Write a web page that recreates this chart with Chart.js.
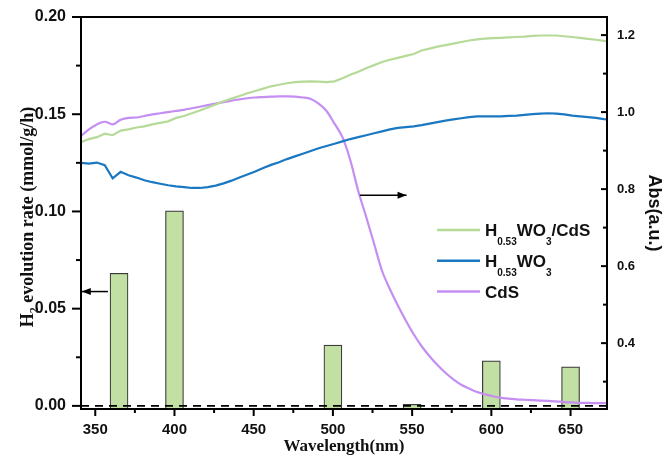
<!DOCTYPE html>
<html>
<head>
<meta charset="utf-8">
<script src="https://cdn.jsdelivr.net/npm/chart.js@4.4.1/dist/chart.umd.min.js"></script>
<style>
  body { margin: 0; background: #fff; }
  canvas { display: block; }
</style>
</head>
<body>
<canvas id="chart" width="665" height="464"></canvas>
<script>
// H2 evolution rate per wavelength (bars, left axis)
const barWl = [365, 400, 500, 550, 600, 650];
const barRate = [0.0682, 0.1003, 0.0313, 0.0008, 0.0232, 0.0201];

// absorbance spectra (lines, right axis)
const wl = [341, 346, 351, 356, 361, 366, 371, 376, 381, 386, 391, 396, 401, 406, 411, 416, 421, 426, 431, 436,
	441, 446, 451, 456, 461, 466, 471, 476, 481, 486, 491, 496, 501, 506, 511, 516, 521, 526, 531, 536,
	541, 546, 551, 556, 561, 566, 571, 576, 581, 586, 591, 596, 601, 606, 611, 616, 621, 626, 631, 636,
	641, 646, 651, 656, 661, 666, 671, 673];
const absComposite = [0.922, 0.930, 0.935, 0.944, 0.940, 0.952, 0.955, 0.960, 0.963, 0.968, 0.972, 0.976, 0.985, 0.990, 0.997, 1.004, 1.012, 1.020, 1.028, 1.035,
	1.042, 1.049, 1.055, 1.061, 1.067, 1.071, 1.075, 1.078, 1.079, 1.080, 1.079, 1.078, 1.080, 1.088, 1.097, 1.105, 1.114, 1.122, 1.130, 1.136,
	1.141, 1.146, 1.151, 1.160, 1.165, 1.170, 1.174, 1.178, 1.182, 1.186, 1.189, 1.191, 1.192, 1.193, 1.194, 1.195, 1.196, 1.198, 1.199, 1.199,
	1.199, 1.197, 1.195, 1.193, 1.190, 1.188, 1.185, 1.184];
const absHWO = [0.868, 0.866, 0.869, 0.862, 0.828, 0.845, 0.836, 0.830, 0.823, 0.818, 0.814, 0.810, 0.807, 0.805, 0.803, 0.803, 0.805, 0.809, 0.815, 0.822,
	0.830, 0.838, 0.846, 0.855, 0.863, 0.870, 0.878, 0.885, 0.892, 0.899, 0.906, 0.912, 0.918, 0.924, 0.930, 0.935, 0.940, 0.945, 0.950, 0.955,
	0.959, 0.961, 0.963, 0.966, 0.970, 0.974, 0.978, 0.981, 0.984, 0.987, 0.989, 0.989, 0.989, 0.989, 0.990, 0.991, 0.993, 0.995, 0.996, 0.997,
	0.996, 0.994, 0.991, 0.989, 0.987, 0.985, 0.982, 0.981];
const absCdS = [0.938, 0.955, 0.968, 0.975, 0.968, 0.980, 0.985, 0.986, 0.990, 0.994, 0.997, 1.000, 1.003, 1.006, 1.010, 1.014, 1.018, 1.022, 1.026, 1.030,
	1.033, 1.036, 1.038, 1.039, 1.040, 1.041, 1.041, 1.040, 1.038, 1.034, 1.022, 1.003, 0.970, 0.935, 0.875, 0.795, 0.728, 0.658, 0.588, 0.540,
	0.498, 0.459, 0.423, 0.392, 0.366, 0.343, 0.323, 0.306, 0.292, 0.282, 0.273, 0.267, 0.262, 0.258, 0.256, 0.254, 0.253, 0.252, 0.251, 0.250,
	0.249, 0.247, 0.246, 0.245, 0.245, 0.244, 0.244, 0.244];

// tick values
const xMajor = [350, 400, 450, 500, 550, 600, 650];
const xMinor = [375, 425, 475, 525, 575, 625];
const rateMajor = [0, 0.05, 0.10, 0.15, 0.20];
const rateMinor = [0.025, 0.075, 0.125, 0.175];
const absMajor = [0.4, 0.6, 0.8, 1.0, 1.2];
const absMinor = [0.3, 0.5, 0.7, 0.9, 1.1];

// zero reference line and the two axis arrows (data units)
const zeroLineX = [341, 673];
const leftArrowX = [358, 341.5], leftArrowY = 0.0588;
const rightArrowX = [517, 546.5], rightArrowY = 0.784;

const colGreen = '#b6da98', colBlue = '#1a78c2', colPurple = '#c48ef2';
const legendItems = [
	{ color: colGreen, parts: [['H', 0], ['0.53', 1], ['WO', 0], ['3', 1], ['/CdS', 0]] },
	{ color: colBlue, parts: [['H', 0], ['0.53', 1], ['WO', 0], ['3', 1]] },
	{ color: colPurple, parts: [['CdS', 0]] }
];

function pts(xs, ys) {
	return xs.map((x, i) => ({ x: x, y: ys[i] }));
}

// draws text pieces, subscripts smaller and lowered
function drawRich(ctx, parts, x, y, font, subFont, shift, measureOnly) {
	let w = 0;
	parts.forEach(p => {
		ctx.font = p[1] ? subFont : font;
		if (!measureOnly) ctx.fillText(p[0], x + w, y + (p[1] ? shift : 0));
		w += ctx.measureText(p[0]).width;
	});
	return w;
}

const decor = {
	id: 'decor',
	afterDatasetsDraw(chart) {
		const { ctx, chartArea: a, scales } = chart;
		const sx = scales.x, sy = scales.y, sy2 = scales.y2;
		ctx.save();
		ctx.strokeStyle = '#000';
		ctx.fillStyle = '#000';
		ctx.lineWidth = 2;
		ctx.strokeRect(a.left, a.top, a.right - a.left, a.bottom - a.top);

		function seg(x1, y1, x2, y2) {
			ctx.beginPath();
			ctx.moveTo(x1, y1);
			ctx.lineTo(x2, y2);
			ctx.stroke();
		}
		xMajor.forEach(v => { let p = sx.getPixelForValue(v); seg(p, a.bottom, p, a.bottom + 7); });
		xMinor.forEach(v => { let p = sx.getPixelForValue(v); seg(p, a.bottom, p, a.bottom + 4); });
		rateMajor.forEach(v => { let p = sy.getPixelForValue(v); seg(a.left - 9, p, a.left, p); });
		rateMinor.forEach(v => { let p = sy.getPixelForValue(v); seg(a.left - 5, p, a.left, p); });
		absMajor.forEach(v => { let p = sy2.getPixelForValue(v); seg(a.right - 6, p, a.right, p); });
		absMinor.forEach(v => { let p = sy2.getPixelForValue(v); seg(a.right - 4, p, a.right, p); });

		function arrow(x1, x2, y) {
			ctx.lineWidth = 1.5;
			seg(x1, y, x2, y);
			let d = x2 > x1 ? 1 : -1;
			ctx.beginPath();
			ctx.moveTo(x2, y);
			ctx.lineTo(x2 - d * 9, y - 3.5);
			ctx.lineTo(x2 - d * 9, y + 3.5);
			ctx.closePath();
			ctx.fill();
		}
		arrow(sx.getPixelForValue(leftArrowX[0]), sx.getPixelForValue(leftArrowX[1]), sy.getPixelForValue(leftArrowY));
		arrow(sx.getPixelForValue(rightArrowX[0]), sx.getPixelForValue(rightArrowX[1]), sy2.getPixelForValue(rightArrowY));
		ctx.restore();
	},
	afterDraw(chart) {
		const ctx = chart.ctx;
		ctx.save();
		ctx.fillStyle = '#111';
		ctx.textBaseline = 'alphabetic';

		// legend
		const lf = 'bold 17px "Liberation Sans", Arial, sans-serif';
		const sf = 'bold 10px "Liberation Sans", Arial, sans-serif';
		legendItems.forEach((it, i) => {
			let y = 230 + i * 30.8;
			ctx.strokeStyle = it.color;
			ctx.lineWidth = 2.5;
			ctx.beginPath();
			ctx.moveTo(437, y);
			ctx.lineTo(480, y);
			ctx.stroke();
			drawRich(ctx, it.parts, 485, y + 6, lf, sf, 9);
		});

		// left axis title with subscript
		const tf = 'bold 18px "Liberation Serif", "Times New Roman", serif';
		const tsf = 'bold 12px "Liberation Serif", "Times New Roman", serif';
		const tparts = [['H', 0], ['2', 1], [' evolution rate (mmol/g/h)', 0]];
		ctx.translate(33, 217);
		ctx.rotate(-Math.PI / 2);
		let w = drawRich(ctx, tparts, 0, 0, tf, tsf, 5, true);
		drawRich(ctx, tparts, -w / 2, 0, tf, tsf, 5);
		ctx.restore();
	}
};

const tickFont = size => ({ family: '"Liberation Sans", Arial, sans-serif', weight: 'bold', size: size });

new Chart(document.getElementById('chart'), {
	type: 'line',
	data: {
		datasets: [
			{
				type: 'line', label: 'zero', data: pts(zeroLineX, [0, 0]), yAxisID: 'y',
				borderColor: '#000', borderWidth: 1.8, borderDash: [8, 6], pointRadius: 0, order: 0
			},
			{
				label: 'H0.53WO3/CdS', data: pts(wl, absComposite), yAxisID: 'y2',
				borderColor: colGreen, borderWidth: 2.2, pointRadius: 0, tension: 0, order: 1
			},
			{
				label: 'H0.53WO3', data: pts(wl, absHWO), yAxisID: 'y2',
				borderColor: colBlue, borderWidth: 2.2, pointRadius: 0, tension: 0, order: 1
			},
			{
				label: 'CdS', data: pts(wl, absCdS), yAxisID: 'y2',
				borderColor: colPurple, borderWidth: 2.2, pointRadius: 0,
				cubicInterpolationMode: 'monotone', order: 1
			},
			{
				type: 'bar', label: 'H2 evolution', data: pts(barWl, barRate), yAxisID: 'y',
				backgroundColor: '#c2e0a4', borderColor: '#3a3a3a', borderWidth: 1.2,
				barThickness: 18, base: -0.0016, order: 3
			}
		]
	},
	options: {
		responsive: false,
		animation: false,
		events: [],
		layout: { padding: { top: 17, left: 0, right: 0, bottom: 0 } },
		plugins: { legend: { display: false }, tooltip: { enabled: false } },
		scales: {
			x: {
				type: 'linear', min: 341, max: 673, offset: false,
				afterBuildTicks: s => { s.ticks = xMajor.map(v => ({ value: v })); },
				afterFit: s => { s.height = 55; },
				grid: { display: false, drawTicks: true, tickLength: 7 },
				border: { display: false },
				ticks: { color: '#111', font: tickFont(15), padding: 5, maxRotation: 0, callback: v => String(v) },
				title: {
					display: true, text: 'Wavelength(nm)', color: '#111',
					font: { family: '"Liberation Serif", "Times New Roman", serif', weight: 'bold', size: 17 },
					padding: { top: 0, bottom: 7 }
				}
			},
			y: {
				type: 'linear', position: 'left', min: -0.0016, max: 0.20,
				afterBuildTicks: s => { s.ticks = rateMajor.map(v => ({ value: v })); },
				afterFit: s => { s.width = 81; },
				grid: { display: false, drawTicks: true, tickLength: 9 },
				border: { display: false },
				ticks: { color: '#111', font: tickFont(16), padding: 6, callback: v => v.toFixed(2) }
			},
			y2: {
				type: 'linear', position: 'right', min: 0.229, max: 1.247,
				afterBuildTicks: s => { s.ticks = absMajor.map(v => ({ value: v })); },
				afterFit: s => { s.width = 58; },
				grid: { display: false, drawTicks: true, tickLength: 4, drawOnChartArea: false },
				border: { display: false },
				ticks: { color: '#111', font: tickFont(13), padding: 6, callback: v => v.toFixed(1) },
				title: {
					display: true, text: 'Abs(a.u.)', color: '#111',
					font: { family: '"Liberation Sans", Arial, sans-serif', weight: 'bold', size: 18 },
					padding: { top: 0, bottom: 0 }
				}
			}
		}
	},
	plugins: [decor]
});
</script>
</body>
</html>
